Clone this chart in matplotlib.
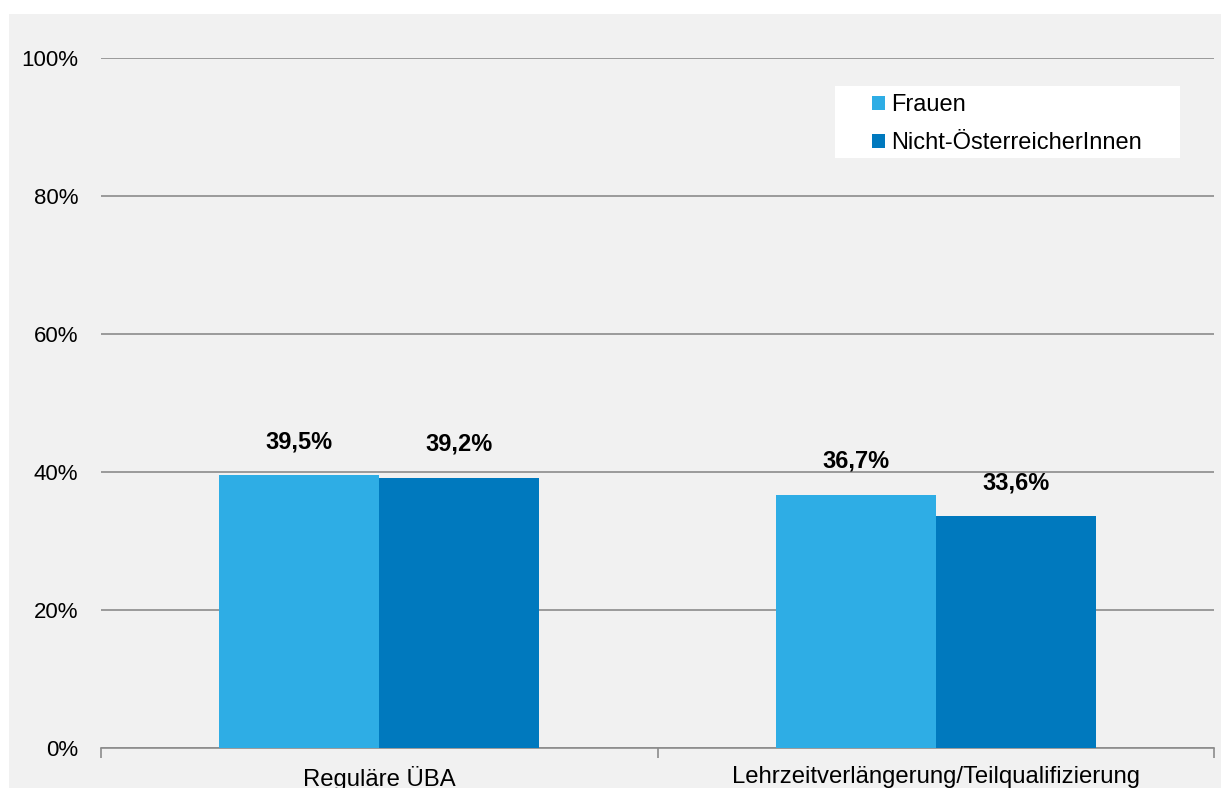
import matplotlib.pyplot as plt
import numpy as np
from matplotlib.patches import Rectangle

plt.rcParams['font.family'] = ['Liberation Sans', 'DejaVu Sans']

categories = ["Reguläre ÜBA", "Lehrzeitverlängerung/Teilqualifizierung"]
series_names = ["Frauen", "Nicht-ÖsterreicherInnen"]
frauen = [39.5, 36.7]
nicht_oe = [39.2, 33.6]
y_ticks = [0, 20, 40, 60, 80, 100]

colors = ["#2EADE5", "#0079BE"]
grid_color = "#8C8C8C"

W, H = 1221, 788
fig = plt.figure(figsize=(W / 100, H / 100), dpi=100, facecolor="white")
# grauer Hintergrund wie im Original (Rand oben/links weiß)
fig.patches.append(Rectangle((9 / W, 0), 1 - 9 / W, 1 - 14 / H,
                             transform=fig.transFigure, facecolor="#F1F1F1",
                             edgecolor="none", zorder=-10))

ax = fig.add_axes([101 / W, 40 / H, (1214 - 101) / W, (748 - 58) / H])
ax.set_facecolor("none")

x = np.arange(len(categories))
w = 0.2875
bars1 = ax.bar(x - w / 2, frauen, w, color=colors[0], label=series_names[0], zorder=3)
bars2 = ax.bar(x + w / 2, nicht_oe, w, color=colors[1], label=series_names[1], zorder=3)

for bars, vals in [(bars1, frauen), (bars2, nicht_oe)]:
    for b, v in zip(bars, vals):
        ax.annotate(f"{v:.1f}%".replace(".", ","), (b.get_x() + b.get_width() / 2, v),
                    xytext=(0, 24), textcoords="offset points", ha="center", va="center",
                    fontsize=17, fontweight="bold", color="black")

ax.set_xlim(-0.5, 1.5)
ax.set_ylim(0, 100)
ax.set_yticks(y_ticks)
ax.set_yticklabels([f"{t}%" for t in y_ticks])
ax.set_xticks(x)
ax.set_xticklabels(categories)
ax.set_xticks([-0.5, 0.5, 1.5], minor=True)

ax.grid(axis="y", color=grid_color, linewidth=1.2, zorder=0)
for s in ["top", "right", "left"]:
    ax.spines[s].set_visible(False)
ax.spines["bottom"].set_color(grid_color)
ax.spines["bottom"].set_linewidth(1.2)

ax.tick_params(axis="y", length=0, pad=16.5, labelsize=16)
ax.tick_params(axis="x", which="major", length=0, pad=13, labelsize=17.2)
ax.tick_params(axis="x", which="minor", length=7, width=1.2, color=grid_color)

# weißer Legendenkasten
ax.add_patch(Rectangle(((835 - 101) / 1113, (748 - 158) / 690), 345 / 1113, 72 / 690,
                       transform=ax.transAxes, facecolor="white", edgecolor="none",
                       zorder=4))
leg = ax.legend(loc="upper left", bbox_to_anchor=((872 - 101) / 1113, 1 - (94 - 58) / 690),
                frameon=False, fontsize=17, handlelength=0.55, handleheight=0.55,
                handletextpad=0.25, borderpad=0, labelspacing=0.68, borderaxespad=0)
leg.set_zorder(5)

fig.savefig("out.png", dpi=100, facecolor=fig.get_facecolor())
